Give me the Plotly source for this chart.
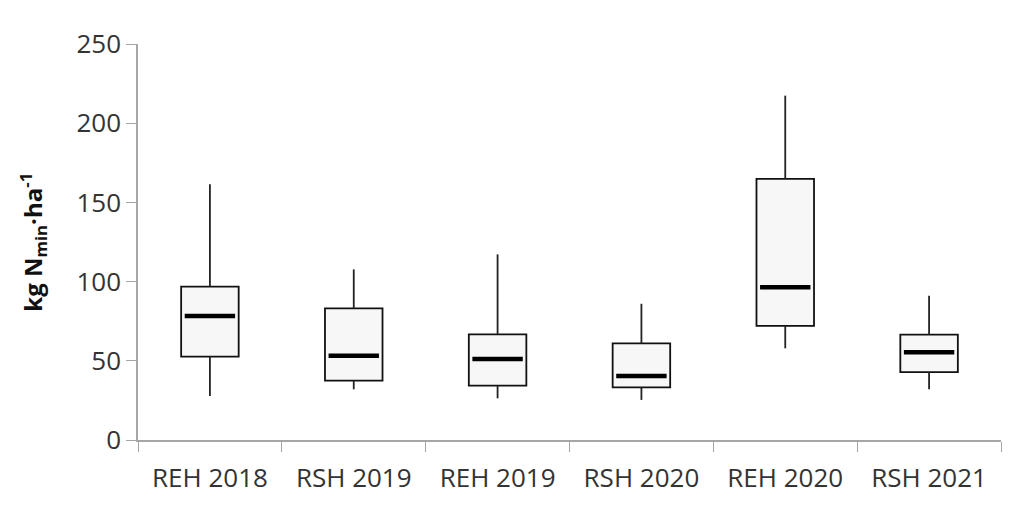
import plotly.graph_objects as go
import numpy as np

# values (kg Nmin/ha)
categories = ["REH 2018", "RSH 2019", "REH 2019", "RSH 2020", "REH 2020", "RSH 2021"]
lower = [27.8, 32.0, 26.3, 25.3, 57.9, 32.0]
q1 = [52.6, 37.5, 34.3, 33.2, 72.0, 42.9]
median = [78.3, 53.2, 51.1, 40.4, 96.4, 55.4]
q3 = [96.8, 83.1, 66.7, 61.0, 164.8, 66.5]
upper = [161.4, 107.7, 117.2, 86.0, 217.4, 91.1]

q1_a = np.array(q1)
q3_a = np.array(q3)

fig = go.Figure()

# boxes as floating bars
fig.add_trace(go.Bar(x=categories, y=q3_a - q1_a, base=q1,
                     marker=dict(color="#f7f7f7", line=dict(color="#111111", width=1.8)),
                     hoverinfo="skip"))

# upper whiskers
fig.add_trace(go.Scatter(x=categories, y=q3, mode="markers",
                         marker=dict(size=1, opacity=0),
                         error_y=dict(type="data", array=np.array(upper) - q3_a,
                                      arrayminus=[0] * len(q3), width=0,
                                      thickness=1.8, color="#222222")))
# lower whiskers
fig.add_trace(go.Scatter(x=categories, y=q1, mode="markers",
                         marker=dict(size=1, opacity=0),
                         error_y=dict(type="data", array=[0] * len(q1),
                                      arrayminus=q1_a - np.array(lower), width=0,
                                      thickness=1.8, color="#222222")))
# medians
fig.add_trace(go.Scatter(x=categories, y=median, mode="markers",
                         marker=dict(symbol="line-ew", size=36,
                                     line=dict(color="#000000", width=4.5))))

# page has an 8px body margin, so margins are shifted to compensate
fig.update_layout(
    width=1024, height=528,
    margin=dict(l=130, r=31, t=36, b=96),
    plot_bgcolor="white", paper_bgcolor="white",
    showlegend=False, bargap=0.6,
    font=dict(family="Open Sans", color="#404040"),
    xaxis=dict(type="category", tickson="boundaries", ticks="outside", ticklen=10,
               tickcolor="#a6a6a6", showline=True, linecolor="#a6a6a6", linewidth=1.5,
               showgrid=False, automargin=False, ticklabelstandoff=14,
               tickfont=dict(size=26, color="#333333")),
    yaxis=dict(range=[0, 250], dtick=50, ticks="outside", ticklen=10,
               tickcolor="#a6a6a6", showline=True, linecolor="#a6a6a6", linewidth=1.5,
               showgrid=False, zeroline=False, automargin=False,
               tickfont=dict(size=26, color="#333333")),
    annotations=[dict(text="<b>kg N<sub>min</sub>·ha<sup>-1</sup></b>",
                      xref="paper", yref="paper", x=-0.122, y=0.5,
                      xanchor="center", yanchor="middle", textangle=-90,
                      showarrow=False, font=dict(size=24, color="#111111"))],
)

fig.write_html("out.html")
